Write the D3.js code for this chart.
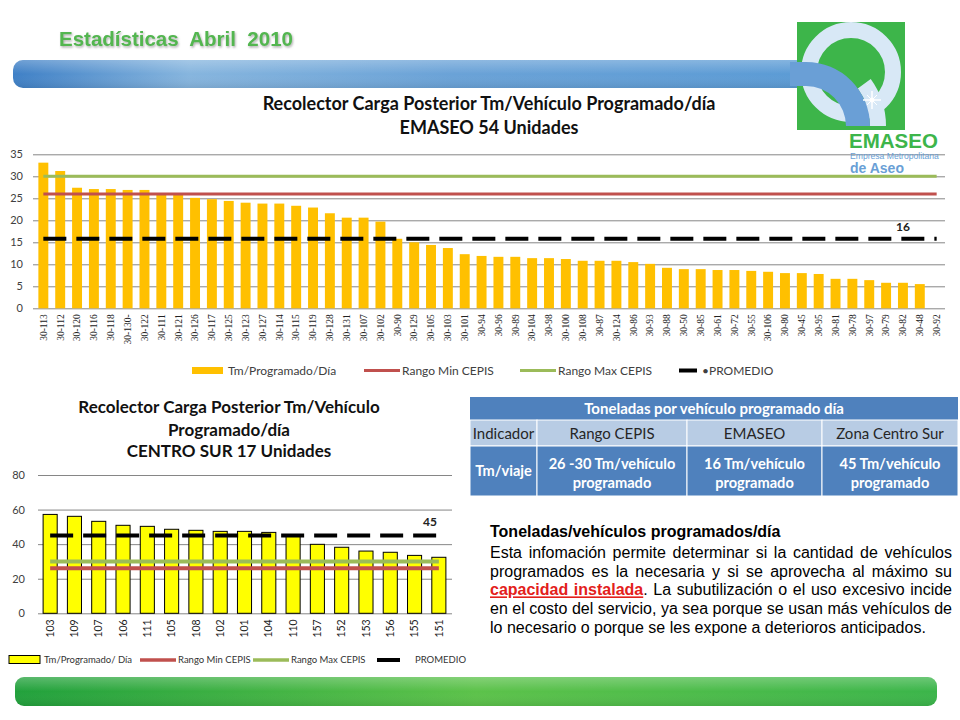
<!DOCTYPE html>
<html><head><meta charset="utf-8">
<script src="https://cdn.jsdelivr.net/npm/d3@7"></script>
<style>body{margin:0;background:#fff}svg{display:block}</style>
</head><body>
<svg id="c" width="960" height="720"></svg>
<script>
// ---------- DATA ----------
const topCategories = ["30-113","30-112","30-120","30-116","30-118","30-130-","30-122","30-111","30-121","30-126","30-117","30-125","30-123","30-127","30-114","30-115","30-119","30-128","30-131","30-107","30-102","30-90","30-129","30-105","30-103","30-101","30-94","30-96","30-89","30-104","30-98","30-100","30-108","30-87","30-124","30-86","30-93","30-88","30-50","30-85","30-61","30-72","30-55","30-106","30-80","30-45","30-95","30-81","30-78","30-97","30-79","30-82","30-48","30-92"];
const topValues = [33.1,31.2,27.4,27.1,27.1,26.9,26.9,26.2,26.0,25.1,24.8,24.4,24.0,23.8,23.8,23.3,22.9,21.6,20.6,20.6,19.7,15.8,15.0,14.4,13.7,12.3,11.9,11.7,11.7,11.4,11.4,11.2,10.8,10.8,10.8,10.5,10.1,9.2,8.9,8.9,8.7,8.7,8.5,8.3,8.0,8.0,7.8,6.7,6.7,6.4,5.8,5.8,5.5,0];
const topRangoMin = 26;
const topRangoMax = 30;
const topPromedio = 15.8;
const topPromedioLabelAt = "30-82";
const topYTicks = [0,5,10,15,20,25,30,35];

const bottomCategories = ["103","109","107","106","111","105","108","102","101","104","110","157","152","153","156","155","151"];
const bottomValues = [57.2,56.1,53.2,50.9,50.3,48.6,48.0,47.4,47.4,46.8,44.5,39.9,38.2,36.0,35.3,33.5,32.4];
const bottomRangoMin = 26;
const bottomRangoMax = 30;
const bottomPromedio = 45;
const bottomYTicks = [0,20,40,60,80];

const topSeriesNames = ["Tm/Programado/Día","Rango Min CEPIS","Rango Max CEPIS","•PROMEDIO"];
const bottomSeriesNames = ["Tm/Programado/ Día","Rango Min CEPIS","Rango Max CEPIS","PROMEDIO"];

const tableTitle = "Toneladas por vehículo programado día";
const tableHeader = ["Indicador","Rango CEPIS","EMASEO","Zona Centro Sur"];
const tableRow = [["Tm/viaje"],["26 -30 Tm/vehículo","programado"],["16 Tm/vehículo","programado"],["45 Tm/vehículo","programado"]];

// ---------- DRAW ----------
const svg = d3.select("#c");
const defs = svg.append("defs");
const CAL = "Lato, 'Open Sans', sans-serif";
const ARIAL = "'Liberation Sans', Arial, sans-serif";

// header
const gb = defs.append("linearGradient").attr("id","gb").attr("x1","0").attr("x2","1").attr("y1","0").attr("y2","0");
[[0,"#3f80c6"],[0.22,"#86b5de"],[0.55,"#6aa2d7"],[1,"#5b9bd5"]].forEach(s=>gb.append("stop").attr("offset",s[0]).attr("stop-color",s[1]));
const gbv = defs.append("linearGradient").attr("id","gbv").attr("x1","0").attr("x2","0").attr("y1","0").attr("y2","1");
[[0,"#ffffff",0.25],[0.5,"#ffffff",0],[1,"#000000",0.08]].forEach(s=>gbv.append("stop").attr("offset",s[0]).attr("stop-color",s[1]).attr("stop-opacity",s[2]));
svg.append("rect").attr("x",13).attr("y",60).attr("width",800).attr("height",28).attr("rx",10).attr("fill","url(#gb)");
svg.append("rect").attr("x",13).attr("y",60).attr("width",800).attr("height",28).attr("rx",10).attr("fill","url(#gbv)");

const gg = defs.append("linearGradient").attr("id","gg").attr("x1","0").attr("x2","1");
[[0,"#22a13c"],[0.5,"#5cc24a"],[1,"#3bb54a"]].forEach(s=>gg.append("stop").attr("offset",s[0]).attr("stop-color",s[1]));
svg.append("rect").attr("x",15).attr("y",677).attr("width",922).attr("height",29).attr("rx",9).attr("fill","url(#gg)");
svg.append("rect").attr("x",15).attr("y",677).attr("width",922).attr("height",29).attr("rx",9).attr("fill","url(#gbv)");

const sh = defs.append("filter").attr("id","sh");
sh.append("feDropShadow").attr("dx",1).attr("dy",1.5).attr("stdDeviation",0.8).attr("flood-color","#777").attr("flood-opacity",0.6);
svg.append("text").attr("x",59).attr("y",46).attr("font-family",ARIAL).attr("font-weight","bold").attr("font-size",20.5)
  .attr("fill","#52b64f").attr("filter","url(#sh)").attr("xml:space","preserve").text("Estadísticas  Abril  2010");

// logo
const clip = defs.append("clipPath").attr("id","sq");
clip.append("rect").attr("x",790).attr("y",22).attr("width",115).attr("height",108);
const logo = svg.append("g");
logo.append("rect").attr("x",797).attr("y",22).attr("width",108).attr("height",108).attr("fill","#3db54a");
const lg = logo.append("g").attr("clip-path","url(#sq)");
lg.append("circle").attr("cx",851).attr("cy",72).attr("r",42).attr("fill","none").attr("stroke","#d8e8f6").attr("stroke-width",16);
lg.append("path").attr("transform","translate(806,126)").attr("fill","#d8e8f6")
  .attr("d",d3.arc().innerRadius(64).outerRadius(80).startAngle(0.3*Math.PI).endAngle(0.5*Math.PI)());
lg.append("path").attr("transform","translate(806,126)").attr("fill","#6a9fd6")
  .attr("d",d3.arc().innerRadius(40).outerRadius(64).startAngle(0).endAngle(0.5*Math.PI)());
lg.append("rect").attr("x",790).attr("y",62).attr("width",17).attr("height",24).attr("fill","#6a9fd6");
const sp = logo.append("g").attr("transform","translate(872,100)").attr("stroke","#fff");
sp.append("line").attr("x1",-9).attr("x2",9).attr("stroke-width",1.5);
sp.append("line").attr("y1",-9).attr("y2",9).attr("stroke-width",1.5);
sp.append("line").attr("x1",-5).attr("x2",5).attr("y1",-5).attr("y2",5).attr("stroke-width",1);
sp.append("line").attr("x1",-5).attr("x2",5).attr("y1",5).attr("y2",-5).attr("stroke-width",1);
sp.append("circle").attr("r",2.5).attr("fill","#fff").attr("stroke","none");
logo.append("text").attr("x",849).attr("y",148).attr("font-family",ARIAL).attr("font-weight","bold").attr("font-size",20.5).attr("fill","#3db54a").text("EMASEO");

// ---------- TOP CHART ----------
{
  const x = d3.scaleBand().domain(topCategories).range([35,945]).paddingInner(0.41).paddingOuter(0.2);
  const y = d3.scaleLinear().domain([0,35]).range([308.3,154.3]);
  const g = svg.append("g");
  g.append("g").attr("transform","translate(33,0)")
    .call(d3.axisLeft(y).tickValues(topYTicks).tickSize(-(945-33)).tickPadding(10))
    .call(a=>a.select(".domain").remove())
    .call(a=>a.selectAll("line").attr("stroke","#868686"))
    .call(a=>a.selectAll("text").attr("font-family",CAL).attr("font-size",11).attr("fill","#404040"));
  g.append("g").attr("transform",`translate(0,${y(0)})`)
    .call(d3.axisBottom(x).tickSize(0))
    .call(a=>a.select(".domain").remove())
    .call(a=>a.selectAll("text").attr("transform","rotate(-90)").attr("text-anchor","end")
      .attr("x",-6).attr("y",0).attr("dy","0.35em")
      .attr("font-family","'Liberation Serif', serif").attr("font-size",9.5).attr("fill","#222"));
  const data = topCategories.map((c,i)=>({c,v:topValues[i]})).filter(d=>d.v>0);
  g.selectAll("rect.bar").data(data).join("rect").attr("class","bar")
    .attr("x",d=>x(d.c)).attr("width",x.bandwidth()).attr("y",d=>y(d.v)).attr("height",d=>y(0)-y(d.v)).attr("fill","#ffc000");
  const cx = c=>x(c)+x.bandwidth()/2;
  const line = v=>d3.line().x(c=>cx(c)).y(()=>y(v))(topCategories);
  g.append("path").attr("d",line(topRangoMax)).attr("stroke","#9bbb59").attr("stroke-width",3).attr("fill","none");
  g.append("path").attr("d",line(topRangoMin)).attr("stroke","#c0504d").attr("stroke-width",3).attr("fill","none");
  g.append("path").attr("d",line(topPromedio)).attr("stroke","#000").attr("stroke-width",4).attr("stroke-dasharray","23,10").attr("fill","none");
  g.append("text").attr("x",cx(topPromedioLabelAt)).attr("y",y(topPromedio)-8).attr("text-anchor","middle")
    .attr("font-family",CAL).attr("font-weight","bold").attr("font-size",12).attr("fill","#222").text(d3.format(".0f")(topPromedio));
  const t = g.append("text").attr("text-anchor","middle").attr("font-family",CAL).attr("font-weight","bold").attr("font-size",18).attr("fill","#111");
  t.append("tspan").attr("x",489).attr("y",110).text("Recolector Carga Posterior Tm/Vehículo Programado/día");
  t.append("tspan").attr("x",489).attr("y",134).text("EMASEO 54 Unidades");
  const lx = [192,364,520,679];
  const leg = g.append("g");
  topSeriesNames.forEach((n,i)=>{
    const gx = lx[i];
    if(i===0) leg.append("rect").attr("x",gx).attr("y",367).attr("width",31).attr("height",7).attr("fill","#ffc000");
    else leg.append("line").attr("x1",gx).attr("x2",gx+(i===3?18:36)).attr("y1",370.5).attr("y2",370.5)
      .attr("stroke",["","#c0504d","#9bbb59","#000"][i]).attr("stroke-width",i===3?4:3);
    leg.append("text").attr("x",gx+(i===0?36:i===3?23:38)).attr("y",374.5).attr("font-family",CAL).attr("font-size",12).attr("fill","#404040").text(n);
  });
}

// ---------- BOTTOM CHART ----------
{
  const x = d3.scaleBand().domain(bottomCategories).range([38,451]).paddingInner(0.42).paddingOuter(0.21);
  const y = d3.scaleLinear().domain([0,80]).range([613.3,475]);
  const g = svg.append("g");
  g.append("g").attr("transform","translate(38,0)")
    .call(d3.axisLeft(y).tickValues(bottomYTicks).tickSize(-(452-38)).tickPadding(13))
    .call(a=>a.select(".domain").remove())
    .call(a=>a.selectAll("line").attr("stroke","#868686"))
    .call(a=>a.selectAll("text").attr("font-family",CAL).attr("font-size",11).attr("fill","#404040"));
  g.append("g").attr("transform",`translate(0,${y(0)})`)
    .call(d3.axisBottom(x).tickSize(0))
    .call(a=>a.select(".domain").remove())
    .call(a=>a.selectAll("text").attr("transform","rotate(-90)").attr("text-anchor","end")
      .attr("x",-6).attr("y",0).attr("dy","0.35em")
      .attr("font-family",CAL).attr("font-size",10.5).attr("fill","#222"));
  const data = bottomCategories.map((c,i)=>({c,v:bottomValues[i]}));
  g.selectAll("rect.bar").data(data).join("rect").attr("class","bar")
    .attr("x",d=>x(d.c)).attr("width",x.bandwidth()).attr("y",d=>y(d.v)).attr("height",d=>y(0)-y(d.v))
    .attr("fill","#ffff00").attr("stroke","#000").attr("stroke-width",1);
  const cx = c=>x(c)+x.bandwidth()/2;
  const line = v=>d3.line().x(c=>cx(c)).y(()=>y(v))(bottomCategories);
  g.append("path").attr("d",line(bottomRangoMax)).attr("stroke","#9bbb59").attr("stroke-width",4).attr("fill","none");
  g.append("path").attr("d",line(bottomRangoMin)).attr("stroke","#c0504d").attr("stroke-width",4).attr("fill","none");
  g.append("path").attr("d",line(bottomPromedio)).attr("stroke","#000").attr("stroke-width",4).attr("stroke-dasharray","23,10").attr("fill","none");
  const last = bottomCategories[bottomCategories.length-1];
  g.append("text").attr("x",cx(last)-2).attr("y",y(bottomPromedio)-10).attr("text-anchor","end")
    .attr("font-family",CAL).attr("font-weight","bold").attr("font-size",12).attr("fill","#222").text(d3.format(".0f")(bottomPromedio));
  const t = g.append("text").attr("text-anchor","middle").attr("font-family",CAL).attr("font-weight","bold").attr("font-size",17).attr("fill","#111");
  t.append("tspan").attr("x",229).attr("y",413).text("Recolector Carga Posterior Tm/Vehículo");
  t.append("tspan").attr("x",229).attr("y",436).text("Programado/día");
  t.append("tspan").attr("x",229).attr("y",457).text("CENTRO SUR 17 Unidades");
  const lx = [9,140,253,377];
  const leg = g.append("g");
  bottomSeriesNames.forEach((n,i)=>{
    const gx = lx[i];
    if(i===0) leg.append("rect").attr("x",gx).attr("y",655.5).attr("width",31).attr("height",8).attr("fill","#ffff00").attr("stroke","#000");
    else leg.append("line").attr("x1",gx).attr("x2",gx+(i===3?23:36)).attr("y1",660).attr("y2",660)
      .attr("stroke",["","#c0504d","#9bbb59","#000"][i]).attr("stroke-width",i===3?4:3.5);
    leg.append("text").attr("x",gx+(i===0?35:38)).attr("y",663).attr("font-family",CAL).attr("font-size",9.5).attr("fill","#333").text(n);
  });
}

// logo texts (over chart gridlines)
svg.append("text").attr("x",850).attr("y",159).attr("font-family",ARIAL).attr("font-size",8.6).attr("fill","#6a9fd6").text("Empresa Metropolitana");
svg.append("text").attr("x",850).attr("y",173).attr("font-family",ARIAL).attr("font-weight","bold").attr("font-size",14).attr("fill","#6a9fd6").text("de Aseo");

// ---------- TABLE ----------
{
  const colX = [470,537,687,822,958];
  const g = svg.append("g");
  g.append("rect").attr("x",470).attr("y",397).attr("width",488).attr("height",23).attr("fill","#4f81bd");
  g.append("text").attr("x",714).attr("y",414).attr("text-anchor","middle").attr("font-family",CAL).attr("font-weight","bold")
    .attr("font-size",15).attr("fill","#fff").text(tableTitle);
  tableHeader.forEach((h,i)=>{
    g.append("rect").attr("x",colX[i]).attr("y",420).attr("width",colX[i+1]-colX[i]).attr("height",26).attr("fill","#b8cce4").attr("stroke","#fff").attr("stroke-width",1);
    g.append("text").attr("x",(colX[i]+colX[i+1])/2).attr("y",439).attr("text-anchor","middle").attr("font-family",CAL)
      .attr("font-size",15).attr("fill","#262626").text(h);
  });
  tableRow.forEach((lines,i)=>{
    g.append("rect").attr("x",colX[i]).attr("y",446).attr("width",colX[i+1]-colX[i]).attr("height",50).attr("fill","#4f81bd").attr("stroke","#fff").attr("stroke-width",1);
    const y0 = lines.length===1 ? 476 : 469;
    lines.forEach((l,j)=>g.append("text").attr("x",(colX[i]+colX[i+1])/2).attr("y",y0+j*19).attr("text-anchor","middle")
      .attr("font-family",CAL).attr("font-weight","bold").attr("font-size",14.6).attr("fill","#fff").text(l));
  });
}

// ---------- PARAGRAPH ----------
{
  const g = svg.append("g").attr("font-family",ARIAL).attr("fill","#000");
  g.append("text").attr("x",490).attr("y",537).attr("font-size",16).attr("font-weight","bold").text("Toneladas/vehículos programados/día");
  const lines = [
    [["Esta infomación permite determinar si la cantidad de vehículos",0]],
    [["programados es la necesaria y si se aprovecha al máximo su",0]],
    [["capacidad instalada",1],[". La subutilización o el uso excesivo incide",0]],
    [["en el costo del servicio, ya sea porque se usan más vehículos de",0]],
    [["lo necesario o porque se les expone a deterioros anticipados.",0]]
  ];
  lines.forEach((parts,i)=>{
    const t = g.append("text").attr("x",490).attr("y",558+i*18.7).attr("font-size",16).attr("xml:space","preserve");
    parts.forEach(p=>{
      const s = t.append("tspan").text(p[0]);
      if(p[1]) s.attr("fill","#e3201b").attr("font-weight","bold").attr("text-decoration","underline");
    });
    if(i<lines.length-1){
      const len = t.node().getComputedTextLength();
      const spaces = parts.map(p=>p[0]).join("").split(" ").length-1;
      t.attr("word-spacing",(462-len)/spaces);
    }
  });
}
</script>
</body></html>
